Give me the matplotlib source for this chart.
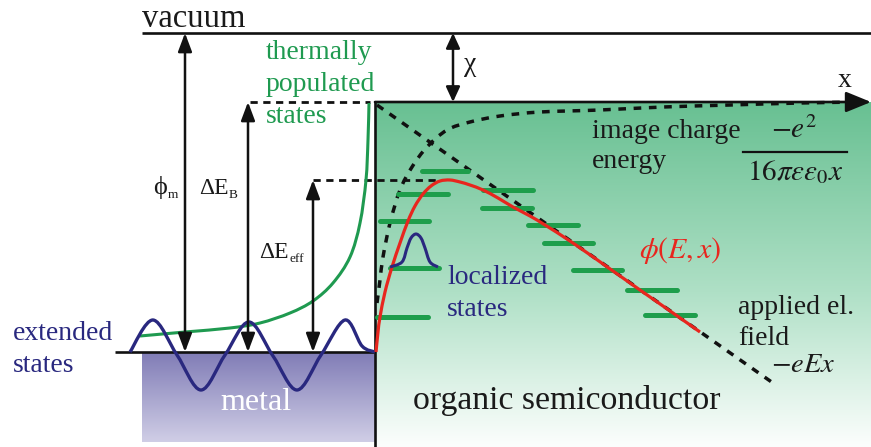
import numpy as np
import matplotlib
matplotlib.use('Agg')
import matplotlib.pyplot as plt
from matplotlib.path import Path
from matplotlib.patches import PathPatch, FancyArrowPatch
from matplotlib.colors import LinearSegmentedColormap

plt.rcParams['font.family'] = ['Liberation Serif', 'DejaVu Serif']

# ---------------- schematic values (pixel space, y grows downward) -------------
vacuum_y = 33
lumo_y = 102           # transport level at the interface (x axis)
eff_y = 180            # effective barrier (maximum of phi(E,x))
fermi_y = 352          # metal Fermi level
interface_x = 375
metal_x = [142, 375]
metal_y = [352, 442]
vacuum_x = [142, 871]
fermi_x = [115, 375]

# arrows: x position, from y, to y
arrow_x = [185, 248, 313, 453]
arrow_top = [33, 102, 180, 33]
arrow_bot = [352, 352, 352, 102]

# localized states (horizontal bars): left x, right x, energy y
bar_left = [422, 398, 380, 390, 377, 483, 482, 528, 544, 573, 627, 645]
bar_right = [468, 448, 429, 439, 428, 533, 532, 578, 593, 622, 677, 695]
bar_y = [171, 194, 221, 268, 317, 190, 208, 225, 243, 270, 290, 315]

# phi(E,x) curve (red)
phi_x = [376, 378, 380, 385, 392, 400, 408, 415, 423, 431, 440, 450, 460, 470,
         483, 498, 513, 530, 545, 573, 613, 640, 673, 700]
phi_y = [352, 332, 317, 292, 267, 243, 221, 206, 194, 186, 181, 180, 182, 185,
         190, 198, 207, 216, 225, 243, 271, 290, 313, 332]

# image charge energy (dotted)
img_x = [377, 380, 383, 390, 400, 412, 427, 447, 470, 500, 540, 600, 663, 730, 800, 860]
img_y = [303, 280, 257, 223, 190, 167, 147, 130, 122, 116, 112, 110, 107, 105, 103, 102]

# applied field (dotted straight line)
field_x = [377, 773]
field_y = [105, 383]

# thermally populated states (green curve)
therm_x = [140, 185, 230, 260, 290, 313, 333, 350, 360, 366, 368, 369]
therm_y = [336, 332, 328, 323, 313, 301, 283, 257, 223, 180, 140, 103]

# extended states wave (metal)
wave_x = [130, 153, 177, 201, 225, 249, 273, 297, 321, 345, 362, 375]
wave_y = [352, 320, 355, 390, 355, 322, 356, 390, 355, 320, 346, 352]

# localized state distribution (gaussian on a bar)
gauss_x = [390, 402, 407, 411, 416, 421, 425, 430, 438]
gauss_y = [267, 262, 248, 238, 234, 238, 248, 262, 267]

GREEN = '#1f9a50'
BAR_GREEN = '#1e9e4c'
NAVY = '#29287f'
RED = '#e8261e'
INK = '#1a1a1a'

W, H = 871, 447
fig = plt.figure(figsize=(W / 100, H / 100), dpi=100)
ax = fig.add_axes([0, 0, 1, 1])
ax.set_xlim(0, W)
ax.set_ylim(H, 0)
ax.axis('off')


def smooth_path(xs, ys):
    pts = np.column_stack([xs, ys]).astype(float)
    n = len(pts)
    verts = [pts[0]]
    codes = [Path.MOVETO]
    for i in range(n - 1):
        p0 = pts[max(i - 1, 0)]
        p1 = pts[i]
        p2 = pts[i + 1]
        p3 = pts[min(i + 2, n - 1)]
        c1 = p1 + (p2 - p0) / 6.0
        c2 = p2 - (p3 - p1) / 6.0
        verts += [c1, c2, p2]
        codes += [Path.CURVE4] * 3
    return Path(verts, codes)


def draw_curve(xs, ys, **kw):
    patch = PathPatch(smooth_path(xs, ys), fill=False, **kw)
    ax.add_patch(patch)
    return patch


# ---------------- gradients ----------------
grad = np.linspace(0, 1, 256).reshape(-1, 1)
green_cmap = LinearSegmentedColormap.from_list(
    'g', [(0, (104/255, 192/255, 146/255)), (0.55, (175/255, 224/255, 198/255)),
          (1, (252/255, 254/255, 253/255))])
ax.imshow(grad, cmap=green_cmap, aspect='auto',
          extent=[interface_x, W, H, lumo_y], zorder=0, interpolation='bicubic')
metal_cmap = LinearSegmentedColormap.from_list(
    'm', [(0, (128/255, 124/255, 182/255)), (1, (208/255, 206/255, 230/255))])
ax.imshow(grad, cmap=metal_cmap, aspect='auto',
          extent=[metal_x[0], metal_x[1], metal_y[1], metal_y[0]], zorder=0,
          interpolation='bicubic')

# ---------------- main lines ----------------
LW = 1.9
ax.plot(vacuum_x, [vacuum_y, vacuum_y], color='#111111', lw=LW, zorder=3,
        solid_capstyle='butt')
ax.plot(fermi_x, [fermi_y, fermi_y], color='#111111', lw=LW, zorder=3,
        solid_capstyle='butt')
ax.plot([interface_x, interface_x], [lumo_y, H], color='#111111', lw=LW, zorder=4)
ax.add_patch(FancyArrowPatch((interface_x, lumo_y), (W, lumo_y),
                             arrowstyle='-|>,head_length=1.1,head_width=0.45',
                             mutation_scale=14, lw=LW, color='#111111',
                             shrinkA=0, shrinkB=0, zorder=4))

# dashed reference levels
dash = (0, (2.6, 2.0))
ax.plot([250, 370], [lumo_y, lumo_y], color='#111111', lw=2.0, ls=dash, zorder=3)
ax.plot([313, 440], [eff_y, eff_y], color='#111111', lw=2.0, ls=dash, zorder=3)

# dotted image-charge and field lines
draw_curve(img_x, img_y, color='#111111', lw=2.5, ls=(0, (2.2, 2.2)), zorder=5)
ax.plot(field_x, field_y, color='#111111', lw=2.5, ls=(0, (2.2, 2.2)), zorder=5)

# localized state bars
for l, r, y in zip(bar_left, bar_right, bar_y):
    ax.plot([l, r], [y, y], color=BAR_GREEN, lw=3.6, solid_capstyle='round',
            zorder=6)

# phi(E,x)
draw_curve(phi_x, phi_y, color=RED, lw=2.3, zorder=7)

# thermal population curve
draw_curve(therm_x, therm_y, color=GREEN, lw=2.2, zorder=5)

# wavefunctions
draw_curve(wave_x, wave_y, color=NAVY, lw=2.4, zorder=6)
draw_curve(gauss_x, gauss_y, color=NAVY, lw=2.2, zorder=8)

# energy arrows
for x, y0, y1 in zip(arrow_x, arrow_top, arrow_bot):
    small = (y1 - y0) < 100
    ax.add_patch(FancyArrowPatch(
        (x, y0), (x, y1),
        arrowstyle='<|-|>,head_length=%.2f,head_width=%.2f' % (
            (0.8, 0.30) if not small else (0.65, 0.30)),
        mutation_scale=14, lw=1.8, color='#111111', shrinkA=0, shrinkB=0,
        zorder=6))

# ---------------- text ----------------
def t(x, y, s, size, color=INK, **kw):
    kw.setdefault('va', 'baseline')
    kw.setdefault('ha', 'left')
    return ax.text(x, y, s, fontsize=size, color=color, zorder=9, **kw)


def sub(main, s, size=9.5, dy=-2.0):
    ax.annotate(s, xy=(1, 0), xycoords=main, xytext=(0.4, dy),
                textcoords='offset points', fontsize=size, color=INK,
                va='baseline', ha='left', zorder=9,
                annotation_clip=False)


t(142, 27, 'vacuum', 23.5)
t(266, 59, 'thermally', 20, GREEN)
t(266, 91, 'populated', 20, GREEN)
t(266, 123, 'states', 20, GREEN)
t(13, 340, 'extended', 20, NAVY)
t(13, 372, 'states', 20, NAVY)
t(447, 284, 'localized', 20, NAVY)
t(447, 316, 'states', 20, NAVY)
t(592, 138, 'image charge', 20)
t(592, 168, 'energy', 20)
t(738, 314, 'applied el.', 20)
t(738, 345, 'field', 20)
t(413, 409, 'organic semiconductor', 24.3)
t(220, 410, 'metal', 23, 'white')
t(838, 87, 'x', 20)
t(464, 71, 'χ', 20)

# level labels (annotate subscripts to the right of the main symbol)
m1 = t(153, 194, 'ϕ', 19)
m2 = t(199, 194, 'ΔE', 17)
m3 = t(259, 258, 'ΔE', 17)
fig.canvas.draw()
sub(m1, 'm', dy=1.0)
sub(m2, 'B', dy=1.0)
sub(m3, 'eff', dy=1.0)

# math labels
ax.text(680, 250, r'$\phi(E,x)$', fontsize=21.5, color=RED, ha='center',
        va='center', math_fontfamily='stix', zorder=9)
ax.text(803, 366, r'$-eEx$', fontsize=20.5, color=INK, ha='center',
        va='center', math_fontfamily='stix', zorder=9)
ax.text(794, 138, r'$-e^2$', fontsize=21, color=INK, ha='center',
        va='baseline', math_fontfamily='stix', zorder=9)
ax.plot([743, 847], [152, 152], color='#111111', lw=1.6, zorder=9)
ax.text(795, 172, r'$16\pi\varepsilon\varepsilon_0 x$', fontsize=21,
        color=INK, ha='center', va='center', math_fontfamily='stix',
        zorder=9)

fig.savefig('out.png', dpi=100)
